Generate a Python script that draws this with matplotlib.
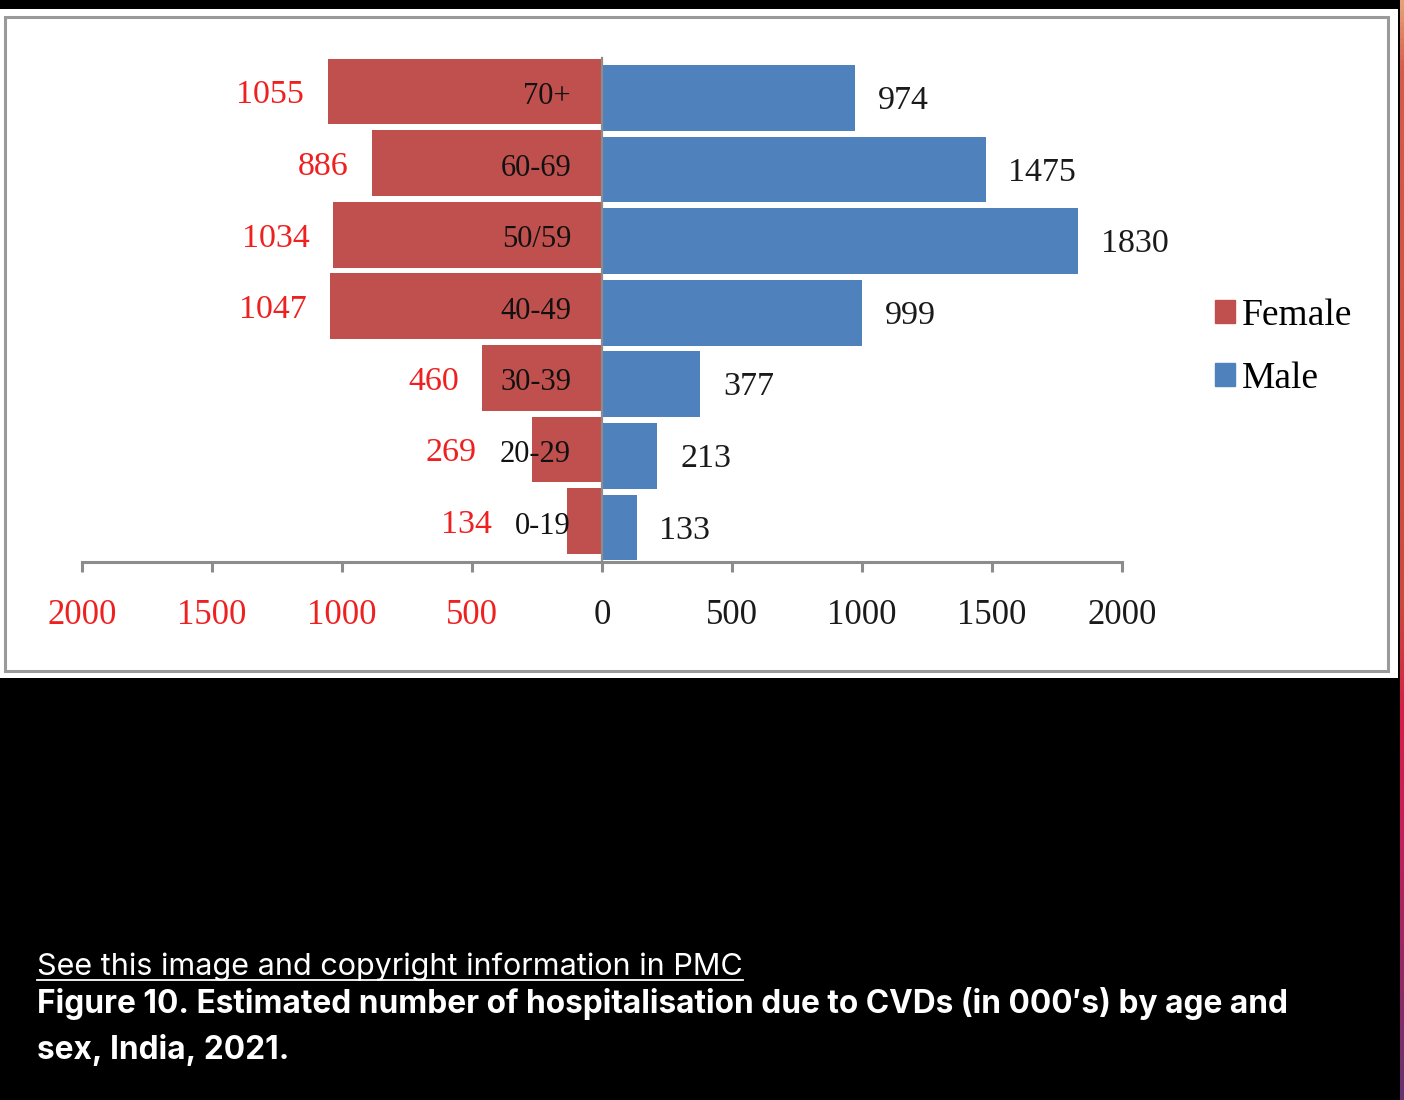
import numpy as np
import matplotlib.pyplot as plt
from matplotlib.patches import Rectangle, Patch
from matplotlib.lines import Line2D
from matplotlib.colors import LinearSegmentedColormap

# data (in 000's), bottom to top
ages = ['0-19', '20-29', '30-39', '40-49', '50/59', '60-69', '70+']
female = [134, 269, 460, 1047, 1034, 886, 1055]
male = [133, 213, 377, 999, 1830, 1475, 974]
ticks = [-2000, -1500, -1000, -500, 0, 500, 1000, 1500, 2000]

W, H = 1404, 1100
RED = '#C0504D'
BLUE = '#4F81BD'
GREY = '#8c8c8c'
SERIF = 'Liberation Serif'


def fx(px):
    return px / W


def fy(py):
    # py measured from top
    return 1 - py / H


def main():
    fig = plt.figure(figsize=(W / 100, H / 100), dpi=100, facecolor='black')

    # white panel with grey frame
    fig.add_artist(Rectangle((fx(0), fy(678)), fx(1398), 669 / H,
                             transform=fig.transFigure, facecolor='white',
                             edgecolor='none', zorder=0))
    fig.add_artist(Rectangle((fx(5), fy(671)), fx(1383), 654 / H,
                             transform=fig.transFigure, facecolor='none',
                             edgecolor='#9a9a9a', lw=2.2, zorder=1))

    # coloured strip at the right edge
    sax = fig.add_axes([fx(1400), 0, fx(4), 1])
    cmap = LinearSegmentedColormap.from_list('edge', [
        (0.0, (0.90, 0.63, 0.47)), (0.06, (0.84, 0.36, 0.28)),
        (0.55, (0.80, 0.29, 0.24)), (0.65, (0.84, 0.12, 0.28)),
        (0.75, (0.78, 0.12, 0.35)), (1.0, (0.40, 0.20, 0.43))])
    sax.imshow(np.linspace(0, 1, 200).reshape(-1, 1), aspect='auto', cmap=cmap)
    sax.axis('off')

    ax = fig.add_axes([fx(82), fy(562), fx(1122 - 82), 512 / H])
    ax.set_facecolor('none')
    y = np.arange(len(ages))
    fem = np.array(female)
    mal = np.array(male)
    ax.barh(y + 0.09, -fem, height=0.92, color=RED, zorder=2)
    ax.barh(y, mal, height=0.92, color=BLUE, zorder=2)
    ax.plot([0, 0], [-0.482, 6.555], color=GREY, lw=1.6, zorder=3)

    ax.set_xlim(-2000, 2000)
    ax.set_ylim(-0.482, 6.670)
    ax.set_yticks([])
    for s in ['left', 'right', 'top']:
        ax.spines[s].set_visible(False)
    ax.spines['bottom'].set_color(GREY)
    ax.spines['bottom'].set_linewidth(2.2)
    ax.set_xticks(ticks)
    ax.set_xticklabels([str(abs(t)) for t in ticks], fontfamily=SERIF, fontsize=25)
    ax.tick_params(axis='x', direction='out', length=7, width=2.2,
                   color=GREY, pad=20)
    for t, lab in zip(ticks, ax.get_xticklabels()):
        lab.set_color('#ee2020' if t < 0 else '#1a1a1a')

    # category labels inside the female bars
    cats = []
    for i, a in enumerate(ages):
        cats.append(ax.text(-119, i + 0.02, a, ha='right', va='center',
                            fontfamily=SERIF, fontsize=22, color='#111111', zorder=4))
    fig.canvas.draw()
    inv = ax.transData.inverted()
    for i, t in enumerate(cats):
        left = inv.transform(t.get_window_extent().get_points())[0][0]
        xl = -max(fem[i], -left) - 90
        ax.text(xl, i + 0.04, str(fem[i]), ha='right', va='center',
                fontfamily=SERIF, fontsize=24.5, color='#ee2020')
        ax.text(mal[i] + 88, i - 0.04, str(mal[i]), ha='left', va='center',
                fontfamily=SERIF, fontsize=24.5, color='#1a1a1a')

    handles = [Patch(color=RED, label='Female'), Patch(color=BLUE, label='Male')]
    ax.legend(handles=handles, loc='center left',
              bbox_to_anchor=(fx(1196), fy(347)), bbox_transform=fig.transFigure,
              frameon=False, borderpad=0, handlelength=0.55, handleheight=0.55,
              handletextpad=0.18, labelspacing=0.75,
              prop={'family': SERIF, 'size': 27})

    # caption
    cap = ['Inter', 'DejaVu Sans']
    link = fig.text(fx(37), fy(975), 'See this image and copyright information in PMC',
                    color='white', fontsize=22, family=cap, va='baseline')
    fig.text(fx(37), fy(1013),
             'Figure 10. Estimated number of hospitalisation due to CVDs (in 000\u2032s) by age and',
             color='white', fontsize=22.8, fontweight='bold', family=cap, va='baseline')
    fig.text(fx(37), fy(1059), 'sex, India, 2021.',
             color='white', fontsize=22.8, fontweight='bold', family=cap, va='baseline')
    fig.canvas.draw()
    bb = link.get_window_extent()
    fig.add_artist(Line2D([bb.x0 / W, bb.x1 / W], [fy(980), fy(980)],
                          transform=fig.transFigure, color='white', lw=1.3))

    fig.savefig('out.png', dpi=100, facecolor='black')


if __name__ == "__main__":
    main()
